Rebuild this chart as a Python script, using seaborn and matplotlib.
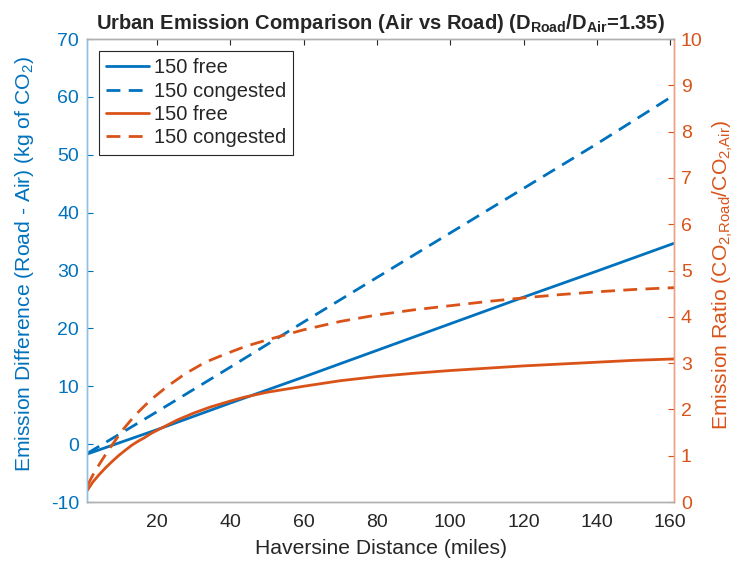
import matplotlib
matplotlib.use("Agg")
import matplotlib.pyplot as plt
import seaborn as sns
import pandas as pd

# ---- data ----
dist_blue = [1, 20, 40, 60, 80, 100, 120, 140, 161]
diff_free = [-1.7, 2.5, 7.1, 11.6, 16.2, 20.8, 25.4, 29.9, 34.7]
diff_cong = [-1.6, 5.6, 13.3, 21.1, 28.8, 36.5, 44.2, 51.9, 60.3]

dist_ratio_free = [1, 2.5, 4.1, 6, 7.7, 9.5, 11.4, 13.2, 15, 16.4, 18.6, 22.3, 25.5, 30,
                   34.5, 40, 43.6, 50, 60, 70, 80, 90, 100, 110, 120, 130, 140, 150, 161]
ratio_free = [0.25, 0.43, 0.58, 0.74, 0.87, 1.00, 1.12, 1.23, 1.32, 1.38, 1.49, 1.64, 1.77,
              1.92, 2.05, 2.18, 2.26, 2.37, 2.50, 2.62, 2.71, 2.78, 2.84, 2.89, 2.94, 2.98,
              3.02, 3.06, 3.09]

dist_ratio_cong = [1, 2.5, 4.1, 5.7, 7.3, 9, 10.9, 14.1, 18.2, 22.7, 27.7, 33.2, 39.1, 44.1,
                   50, 54.5, 60, 70, 80, 90, 100, 110, 120, 130, 140, 150, 161]
ratio_cong = [0.35, 0.58, 0.79, 0.99, 1.18, 1.37, 1.58, 1.88, 2.20, 2.49, 2.77, 3.02, 3.21,
              3.36, 3.50, 3.60, 3.72, 3.90, 4.04, 4.15, 4.24, 4.33, 4.41, 4.48, 4.54, 4.59, 4.63]

labels = ["150 free", "150 congested", "150 free", "150 congested"]
xticks = [20, 40, 60, 80, 100, 120, 140, 160]
yticks_left = [-10, 0, 10, 20, 30, 40, 50, 60, 70]
yticks_right = list(range(0, 11))

BLUE = "#0072BD"
ORANGE = "#D95319"

sns.set_style("white")
plt.rcParams["font.family"] = ["Liberation Sans", "DejaVu Sans"]
plt.rcParams["mathtext.fontset"] = "custom"
plt.rcParams["mathtext.rm"] = "Liberation Sans"
plt.rcParams["mathtext.it"] = "Liberation Sans"
plt.rcParams["mathtext.bf"] = "Liberation Sans:bold"
plt.rcParams["axes.unicode_minus"] = False

df_blue = pd.DataFrame({"d": dist_blue, "free": diff_free, "cong": diff_cong})
df_rf = pd.DataFrame({"d": dist_ratio_free, "r": ratio_free})
df_rc = pd.DataFrame({"d": dist_ratio_cong, "r": ratio_cong})

fig = plt.figure(figsize=(7.39, 5.64), dpi=100)
ax = fig.add_axes([0.1181, 0.1099, 0.7939, 0.8209])
ax2 = ax.twinx()

lw = 2.0
sns.lineplot(data=df_blue, x="d", y="free", ax=ax, color=BLUE, lw=lw, label=labels[0], legend=False)
sns.lineplot(data=df_blue, x="d", y="cong", ax=ax, color=BLUE, lw=lw, label=labels[1], legend=False)
ax.lines[1].set_dashes((5, 3))
sns.lineplot(data=df_rf, x="d", y="r", ax=ax2, color=ORANGE, lw=lw, label=labels[2], legend=False)
sns.lineplot(data=df_rc, x="d", y="r", ax=ax2, color=ORANGE, lw=lw, label=labels[3], legend=False)
ax2.lines[1].set_dashes((5, 3))

ax.set_xlim(1, 161)
ax.set_ylim(-10, 70)
ax2.set_ylim(0, 10)
ax.set_xticks(xticks)
ax.set_yticks(yticks_left)
ax2.set_yticks(yticks_right)

fs = 14
ax.tick_params(axis="x", direction="in", length=4, width=0.8, colors="#262626",
               labelsize=fs, pad=8.5, top=True)
ax.tick_params(axis="y", direction="in", length=4, width=0.8, colors=BLUE,
               labelsize=fs, pad=6, left=True, right=False)
ax2.tick_params(axis="y", direction="in", length=4, width=0.8, colors=ORANGE,
                labelsize=fs, pad=5)

for a in (ax, ax2):
    a.spines["top"].set_color("#b0b0b0")
    a.spines["bottom"].set_color("#b0b0b0")
    a.spines["left"].set_color("#8fc0e3")
    a.spines["right"].set_color("#f0a080")
    for s in a.spines.values():
        s.set_linewidth(1.0)
    a.grid(False)

lfs = 15.2
ax.set_xlabel("Haversine Distance (miles)", fontsize=lfs, color="#262626", labelpad=6)
ax.set_ylabel("Emission Difference (Road - Air) (kg of CO$_2$)", fontsize=lfs, color=BLUE)
ax2.set_ylabel("Emission Ratio (CO$_{2{,}Road}$/CO$_{2{,}Air}$)", fontsize=lfs, color=ORANGE)
ax.yaxis.set_label_coords(-0.088, 0.515)
ax2.yaxis.set_label_coords(1.063, 0.49)

ax.set_title(r"Urban Emission Comparison (Air vs Road) (D$_{\mathbf{Road}}$/D$_{\mathbf{Air}}$=1.35)",
             fontsize=14.5, fontweight="bold", pad=7)

h1, l1 = ax.get_legend_handles_labels()
h2, l2 = ax2.get_legend_handles_labels()
leg = ax2.legend(h1 + h2, labels, loc="upper left", fontsize=14.5, frameon=True,
                 fancybox=False, edgecolor="#262626", framealpha=1,
                 handlelength=2.1, handletextpad=0.25, labelspacing=0.22,
                 borderpad=0.35, borderaxespad=0.6)
leg.get_frame().set_linewidth(0.8)

fig.savefig("out.png", dpi=100)
